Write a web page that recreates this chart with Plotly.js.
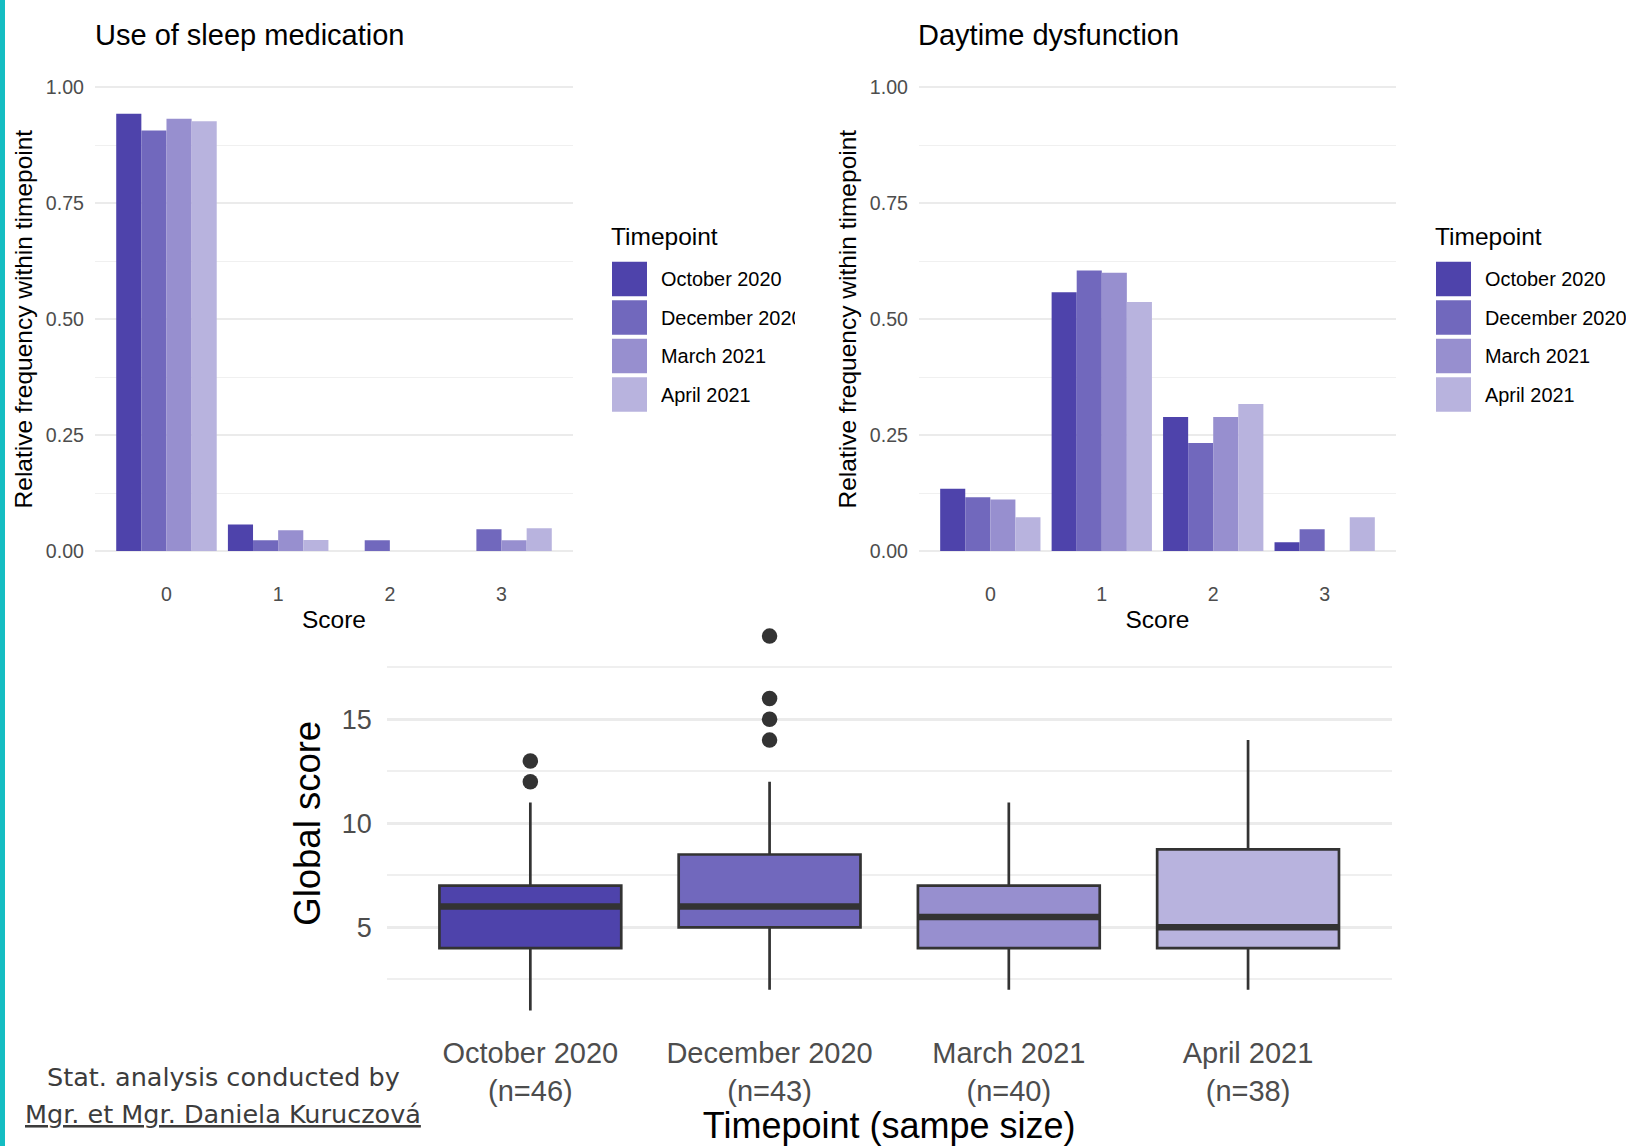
<!DOCTYPE html>
<html>
<head>
<meta charset="utf-8">
<script src="https://cdn.plot.ly/plotly-3.0.1.min.js"></script>
<style>
html, body { margin: 0; padding: 0; background: #ffffff; }
#chart { width: 1626px; height: 1146px; }
</style>
</head>
<body>
<div id="chart"></div>
<script>
// ---------------- DATA ----------------
const timepoints = ['October 2020', 'December 2020', 'March 2021', 'April 2021'];
const sampleSizes = [46, 43, 40, 38];
const scores = [0, 1, 2, 3];

// Use of sleep medication: relative frequency within timepoint, per score 0..3
const medOct = [0.943, 0.057, 0.000, 0.000];
const medDec = [0.907, 0.023, 0.023, 0.047];
const medMar = [0.932, 0.045, 0.000, 0.023];
const medApr = [0.927, 0.024, 0.000, 0.049];

// Daytime dysfunction: relative frequency within timepoint, per score 0..3
const dayOct = [0.134, 0.558, 0.289, 0.019];
const dayDec = [0.116, 0.605, 0.233, 0.047];
const dayMar = [0.111, 0.600, 0.289, 0.000];
const dayApr = [0.073, 0.537, 0.317, 0.073];

// Global score box plot statistics
const gsLowerWhisker = [1, 2, 2, 2];
const gsQ1 = [4, 5, 4, 4];
const gsMedian = [6, 6, 5.5, 5];
const gsQ3 = [7, 8.5, 7, 8.75];
const gsUpperWhisker = [11, 12, 11, 14];
const gsOutliersOct = [12, 13];
const gsOutliersDec = [14, 15, 16, 19];
const gsOutliersMar = [];
const gsOutliersApr = [];

const colors = ['#4E43AB', '#7168BD', '#978FCF', '#B8B3DE'];

// ---------------- HELPERS ----------------
const W = 1626, H = 1146;
const px = x => x / W;
const py = y => 1 - y / H;
const FONT = 'Liberation Sans, Arial, Helvetica, sans-serif';
const TICK_GREY = '#4D4D4D';
const GRID = '#EBEBEB';

const traces = [];

const medSeries = [medOct, medDec, medMar, medApr];
const daySeries = [dayOct, dayDec, dayMar, dayApr];

medSeries.forEach((vals, i) => {
  traces.push({
    type: 'bar', x: scores, y: vals, name: timepoints[i],
    marker: { color: colors[i], line: { width: 0 } },
    xaxis: 'x', yaxis: 'y', showlegend: false
  });
});
daySeries.forEach((vals, i) => {
  traces.push({
    type: 'bar', x: scores, y: vals, name: timepoints[i],
    marker: { color: colors[i], line: { width: 0 } },
    xaxis: 'x2', yaxis: 'y2', showlegend: false
  });
});

// box plot, one trace per timepoint (individual fills)
timepoints.forEach((tp, i) => {
  traces.push({
    type: 'box', name: tp, x: [tp],
    q1: [gsQ1[i]], median: [gsMedian[i]], q3: [gsQ3[i]],
    lowerfence: [gsLowerWhisker[i]], upperfence: [gsUpperWhisker[i]],
    fillcolor: colors[i], line: { color: '#333333', width: 2.7 },
    whiskerwidth: 0, width: 0.76, boxpoints: false,
    xaxis: 'x3', yaxis: 'y3', showlegend: false
  });
});
// thicker median bars (ggplot style)
traces.push({
  type: 'box', name: 'median', x: timepoints,
  q1: gsMedian, median: gsMedian, q3: gsMedian,
  lowerfence: gsMedian, upperfence: gsMedian,
  fillcolor: 'rgba(0,0,0,0)', line: { color: '#333333', width: 6.5 },
  whiskerwidth: 0, width: 0.76, boxpoints: false,
  xaxis: 'x3', yaxis: 'y3', showlegend: false, hoverinfo: 'skip'
});
// outliers
const outlierSets = [gsOutliersOct, gsOutliersDec, gsOutliersMar, gsOutliersApr];
const ox = [], oy = [];
outlierSets.forEach((s, i) => s.forEach(v => { ox.push(timepoints[i]); oy.push(v); }));
traces.push({
  type: 'scatter', mode: 'markers', name: 'outliers', x: ox, y: oy,
  marker: { color: '#333333', size: 15.5 },
  xaxis: 'x3', yaxis: 'y3', showlegend: false
});

// ---------------- AXES ----------------
function barX(domain, anchor) {
  return {
    domain: domain, anchor: anchor, range: [-0.64, 3.64],
    tickvals: scores, ticktext: scores.map(String),
    showgrid: false, zeroline: false, showline: false, ticks: '',
    ticklabelstandoff: 6,
    tickfont: { family: FONT, size: 19.6, color: TICK_GREY },
    title: { text: 'Score', font: { family: FONT, size: 24.5, color: '#000000' }, standoff: 7 },
    fixedrange: true
  };
}
function barY(anchor) {
  return {
    domain: [py(574.2), py(64.1)], anchor: anchor, range: [-0.05, 1.05],
    tick0: 0, dtick: 0.25, tickformat: '.2f',
    showgrid: true, gridcolor: GRID, gridwidth: 2.2,
    minor: { dtick: 0.125, tick0: 0, showgrid: true, gridcolor: '#F0F0F0', gridwidth: 1.3, ticks: '' },
    zeroline: false, showline: false, ticks: '',
    ticklabelstandoff: 10,
    tickfont: { family: FONT, size: 19.6, color: TICK_GREY },
    title: { text: 'Relative frequency within timepoint', font: { family: FONT, size: 24.5, color: '#000000' }, standoff: 6 },
    fixedrange: true
  };
}

const layout = {
  width: W, height: H,
  margin: { l: 0, r: 0, t: 0, b: 0, pad: 0 },
  paper_bgcolor: '#ffffff', plot_bgcolor: '#ffffff',
  font: { family: FONT, color: '#000000' },
  barmode: 'group', bargap: 0.1, bargroupgap: 0,
  boxmode: 'overlay',
  showlegend: false,
  xaxis: barX([px(95), px(573)], 'y'),
  yaxis: barY('x'),
  xaxis2: barX([px(919), px(1396)], 'y2'),
  yaxis2: barY('x2'),
  xaxis3: {
    domain: [px(386.8), px(1391.6)], anchor: 'y3',
    type: 'category', categoryorder: 'array', categoryarray: timepoints,
    range: [-0.6, 3.6],
    tickvals: timepoints,
    ticktext: timepoints.map((t, i) => t + '<br>(n=' + sampleSizes[i] + ')'),
    showgrid: false, zeroline: false, showline: false, ticks: '',
    ticklabelstandoff: 4,
    tickfont: { family: FONT, size: 29, color: TICK_GREY },
    title: { text: 'Timepoint (sampe size)', font: { family: FONT, size: 36, color: '#000000' }, standoff: 12 },
    fixedrange: true
  },
  yaxis3: {
    domain: [py(1029.2), py(617.4)], anchor: 'x3', range: [0.1, 19.9],
    tick0: 0, dtick: 5,
    showgrid: true, gridcolor: GRID, gridwidth: 2.6,
    minor: { dtick: 2.5, tick0: 0, showgrid: true, gridcolor: '#EFEFEF', gridwidth: 1.6, ticks: '' },
    zeroline: false, showline: false, ticks: '',
    ticklabelstandoff: 14,
    tickfont: { family: FONT, size: 27, color: TICK_GREY },
    title: { text: 'Global score', font: { family: FONT, size: 36.5, color: '#000000' }, standoff: 9 },
    fixedrange: true
  },
  shapes: [],
  annotations: []
};

// left teal border of the slide
layout.shapes.push({
  type: 'rect', xref: 'paper', yref: 'paper', x0: 0, x1: px(5), y0: 0, y1: 1,
  fillcolor: '#14BDC2', line: { width: 0 }, layer: 'above'
});

// panel titles
[['Use of sleep medication', 93], ['Daytime dysfunction', 916]].forEach(([t, x]) => {
  layout.annotations.push({
    text: t, xref: 'paper', yref: 'paper', x: px(x), y: py(35),
    xanchor: 'left', yanchor: 'middle', showarrow: false,
    font: { family: FONT, size: 29, color: '#000000' }
  });
});

// legends (ggplot-style large keys), one per bar panel; left one is clipped by its panel edge
[[0, 134], [824, null]].forEach(([off, clipW]) => {
  layout.annotations.push({
    text: 'Timepoint', xref: 'paper', yref: 'paper', x: px(609 + off), y: py(236.5),
    xanchor: 'left', yanchor: 'middle', showarrow: false,
    font: { family: FONT, size: 24.5, color: '#000000' }
  });
  timepoints.forEach((tp, i) => {
    const top = 261.7 + 38.5 * i;
    layout.shapes.push({
      type: 'rect', xref: 'paper', yref: 'paper',
      x0: px(612 + off), x1: px(647 + off), y0: py(top + 34.5), y1: py(top),
      fillcolor: colors[i], line: { width: 0 }
    });
    const ann = {
      text: tp, xref: 'paper', yref: 'paper', x: px(659 + off), y: py(top + 17.5),
      xanchor: 'left', yanchor: 'middle', showarrow: false, align: 'left',
      font: { family: FONT, size: 19.9, color: '#000000' }
    };
    if (clipW) ann.width = clipW;
    layout.annotations.push(ann);
  });
});

// credit
layout.annotations.push({
  text: 'Stat. analysis conducted by', xref: 'paper', yref: 'paper',
  x: px(223), y: py(1077), xanchor: 'center', yanchor: 'middle', showarrow: false,
  font: { family: 'DejaVu Sans, Open Sans, sans-serif', size: 25.5, color: '#3C3C3C' }
});
layout.annotations.push({
  text: '<u>Mgr. et Mgr. Daniela Kuruczová</u>', xref: 'paper', yref: 'paper',
  x: px(223), y: py(1114), xanchor: 'center', yanchor: 'middle', showarrow: false,
  font: { family: 'DejaVu Sans, Open Sans, sans-serif', size: 25.5, color: '#3C3C3C' }
});

Plotly.newPlot('chart', traces, layout, { displayModeBar: false, responsive: false });
</script>
</body>
</html>
